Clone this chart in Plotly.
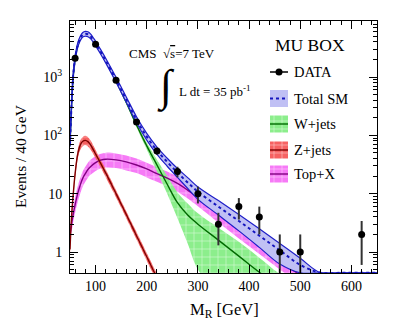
import plotly.graph_objects as go

# ---------------- data ----------------
MR = [50, 53, 56, 60, 65, 70, 75, 80, 85, 90, 100, 110, 120, 140, 160, 180, 200, 220, 240, 260,
      280, 300, 340, 380, 420, 460, 500, 540, 580, 620, 650]

TOT_C = [70, 330, 1000, 2100, 3500, 4600, 5300, 5500, 5400, 5000,
         3750, 2700, 1900, 900, 410, 185, 95, 55, 35, 23,
         15.5, 10.8, 6.0, 3.4, 1.9, 1.07, 0.6, 0.44, 0.44, 0.44, 0.44]
TOT_U = [76, 360, 1090, 2280, 3800, 5000, 5800, 6050, 5950, 5500,
         4100, 2950, 2080, 990, 455, 208, 108, 63, 40.5, 27,
         18.8, 13, 7.6, 4.4, 2.5, 1.4, 0.78, 0.44, 0.44, 0.44, 0.44]
TOT_L = [64, 300, 910, 1920, 3200, 4200, 4850, 5000, 4900, 4550,
         3420, 2460, 1730, 815, 368, 164, 83, 47, 29.5, 19,
         12.3, 8.0, 4.3, 2.3, 1.2, 0.62, 0.44, 0.44, 0.44, 0.44, 0.44]

W_C = [66, 315, 960, 2000, 3380, 4450, 5150, 5380, 5300, 4900,
       3660, 2620, 1830, 850, 365, 150, 66, 31, 14.5, 7.0,
       4.3, 3.0, 1.6, 0.85, 0.45, 0.26, 0.15, None, None, None, None]
W_U = [69, 328, 1000, 2080, 3520, 4630, 5360, 5600, 5510, 5100,
       3800, 2720, 1900, 885, 385, 162, 75, 38, 20, 10.5,
       6.8, 4.6, 2.6, 1.5, 0.8, 0.42, 0.25, None, None, None, None]
W_L = [63, 302, 920, 1920, 3240, 4270, 4940, 5160, 5090, 4700,
       3510, 2520, 1760, 815, 345, 138, 57, 24, 10, 3.8,
       1.4, 0.5, 0.2, 0.1, None, None, None, None, None, None, None]

Z_C = [1.1, 4, 9, 22, 47, 68, 79, 82, 78, 69,
       48, 33, 22.5, 10, 4.4, 1.9, 0.83, 0.36, 0.16, None,
       None, None, None, None, None, None, None, None, None, None, None]
Z_U = [1.35, 4.8, 10.8, 26, 56, 81, 94, 98, 93, 82,
       56, 38.5, 26, 11.5, 5.0, 2.2, 0.96, 0.42, 0.19, None,
       None, None, None, None, None, None, None, None, None, None, None]
Z_L = [0.88, 3.3, 7.4, 18, 39, 56, 65, 68, 64.5, 57,
       40.5, 28, 19, 8.6, 3.8, 1.63, 0.71, 0.31, 0.14, None,
       None, None, None, None, None, None, None, None, None, None, None]

TOP_C = [2.0, 3.0, 4.3, 6.5, 10, 14, 18.5, 22, 26, 29,
         34, 37.5, 39, 38, 35, 31, 26.5, 22, 18.5, 15,
         11.5, 8.5, 4.5, 2.4, 1.3, 0.7, 0.4, 0.22, None, None, None]
TOP_U = [2.7, 4.0, 5.8, 8.7, 13.3, 18.5, 24.5, 29, 34, 38,
         44, 48.5, 50.5, 49, 45, 40, 34, 28.5, 24, 19.5,
         15, 11.2, 6.0, 3.2, 1.75, 0.95, 0.55, 0.3, None, None, None]
TOP_L = [1.45, 2.2, 3.1, 4.7, 7.2, 10, 13.3, 16, 18.8, 21,
         24.5, 27, 28, 27.5, 25, 22.5, 19, 16, 13.3, 10.8,
         8.3, 6.1, 3.2, 1.7, 0.92, 0.5, 0.28, 0.16, None, None, None]

DATA_X = [60, 100, 140, 180, 220, 260, 300, 340, 380, 420, 460, 500, 620]
DATA_Y = [2100, 3650, 880, 170, 54, 24, 10, 3, 6, 4, 1, 1, 2]
DATA_EUP = [46, 60, 30, 13, 7.3, 4.9, 3.2, 1.7, 2.4, 2.0, 1.0, 1.0, 1.4]
DATA_EDN = [46, 60, 30, 13, 7.3, 4.9, 3.2, 1.7, 2.4, 2.0, 0.99, 0.99, 1.4]

X_TICKS = [100, 200, 300, 400, 500, 600]
Y_TICKS = [1, 10, 100, 1000]
Y_TICKTEXT = ["1", "10", "10<sup>2</sup>", "10<sup>3</sup>"]
LEG_LABELS = ["DATA", "Total SM", "W+jets", "Z+jets", "Top+X"]

# ---------------- styles ----------------
FONT = "Liberation Serif"
C_BLUE_FILL = "rgb(192,192,244)"
C_BLUE_LINE = "rgb(30,30,200)"
C_BLUE_DOT = "rgb(20,20,190)"
C_GREEN_FILL = "rgb(140,238,140)"
C_GREEN_LINE = "rgb(0,105,0)"
C_RED_FILL = "rgb(246,98,98)"
C_RED_LINE = "rgb(125,0,0)"
C_PINK_FILL = "rgb(246,122,246)"
C_PINK_LINE = "rgb(128,0,128)"

# plot-area pixel frame
PL, PR, PT, PB = 70, 377, 21, 273
W_PX, H_PX = 407, 322


def pts(xs, ys):
    p = [(x, y) for x, y in zip(xs, ys) if y is not None]
    return [a for a, _ in p], [b for _, b in p]


def band_poly(xs, up, lo):
    ux, uy = pts(xs, up)
    lx, ly = pts(xs, lo)
    return ux + lx[::-1], uy + ly[::-1]


def pattern(col):
    return dict(shape="+", fgcolor="white", bgcolor=col, size=8, solidity=0.12,
                fgopacity=0.75, fillmode="replace")


fig = go.Figure()

# bands
for up, lo, col in [(TOP_U, TOP_L, C_PINK_FILL),
                    (W_U, W_L, C_GREEN_FILL),
                    (Z_U, Z_L, C_RED_FILL)]:
    bx, by = band_poly(MR, up, lo)
    fig.add_trace(go.Scatter(x=bx, y=by, mode="lines", fill="toself", fillcolor=col,
                             fillpattern=pattern(col), line=dict(width=0, shape="spline"),
                             hoverinfo="skip", showlegend=False))

# central lines of components
for ys, col in [(TOP_C, C_PINK_LINE), (W_C, C_GREEN_LINE), (Z_C, C_RED_LINE)]:
    lx, ly = pts(MR, ys)
    fig.add_trace(go.Scatter(x=lx, y=ly, mode="lines", line=dict(color=col, width=1.4, shape="spline"),
                             hoverinfo="skip", showlegend=False))

# total SM band
bx, by = band_poly(MR, TOT_U, TOT_L)
fig.add_trace(go.Scatter(x=bx, y=by, mode="lines", fill="toself", fillcolor=C_BLUE_FILL,
                         line=dict(width=0, shape="spline"), hoverinfo="skip", showlegend=False))
for ys in (TOT_U, TOT_L):
    fig.add_trace(go.Scatter(x=MR, y=ys, mode="lines", line=dict(color=C_BLUE_LINE, width=1.2, shape="spline"),
                             hoverinfo="skip", showlegend=False))
fig.add_trace(go.Scatter(x=MR, y=TOT_C, mode="lines",
                         line=dict(color=C_BLUE_DOT, width=2, dash="dot", shape="spline"),
                         hoverinfo="skip", showlegend=False))

# data
fig.add_trace(go.Scatter(x=DATA_X, y=DATA_Y, mode="markers",
                         marker=dict(color="black", size=7),
                         error_y=dict(type="data", array=DATA_EUP, arrayminus=DATA_EDN, symmetric=False,
                                      color="rgb(50,50,50)", thickness=2, width=0),
                         hoverinfo="skip", showlegend=False))


# ---------------- legend (drawn on an overlay unit axis) ----------------
def u(px):
    return (px - PL) / (PR - PL)


def v(py):
    return (PB - py) / (PB - PT)


ROW_PY = [72, 98.5, 124, 150, 174]
BX0, BX1 = 270, 288
BH = 8.5

fig.add_trace(go.Scatter(x=[u(BX0), u(BX1)], y=[v(ROW_PY[0])] * 2, mode="lines", xaxis="x2", yaxis="y2",
                         line=dict(color="black", width=1.5), hoverinfo="skip", showlegend=False))
fig.add_trace(go.Scatter(x=[u((BX0 + BX1) / 2)], y=[v(ROW_PY[0])], mode="markers", xaxis="x2", yaxis="y2",
                         marker=dict(color="black", size=7), hoverinfo="skip", showlegend=False))

leg_styles = [
    (C_BLUE_FILL, False, C_BLUE_DOT, "dot"),
    (C_GREEN_FILL, True, C_GREEN_LINE, "solid"),
    (C_RED_FILL, True, C_RED_LINE, "solid"),
    (C_PINK_FILL, True, C_PINK_LINE, "solid"),
]
for (fillc, patt, linec, dash), py in zip(leg_styles, ROW_PY[1:]):
    x0, x1 = u(BX0), u(BX1)
    y0, y1 = v(py - BH), v(py + BH)
    kw = dict(fillpattern=pattern(fillc)) if patt else {}
    fig.add_trace(go.Scatter(x=[x0, x1, x1, x0, x0], y=[y0, y0, y1, y1, y0], mode="lines", fill="toself",
                             fillcolor=fillc, line=dict(width=0), xaxis="x2", yaxis="y2",
                             hoverinfo="skip", showlegend=False, **kw))
    fig.add_trace(go.Scatter(x=[x0, x1], y=[v(py)] * 2, mode="lines", xaxis="x2", yaxis="y2",
                             line=dict(color=linec, width=2 if dash == "dot" else 1.4, dash=dash),
                             hoverinfo="skip", showlegend=False))

annotations = []
for lab, py in zip(LEG_LABELS, ROW_PY):
    annotations.append(dict(x=u(292), y=v(py), xref="paper", yref="paper", text=lab, showarrow=False,
                            xanchor="left", yanchor="middle", font=dict(family=FONT, size=14.5, color="black")))

annotations += [
    dict(x=u(273), y=v(45), xref="paper", yref="paper", text="MU BOX", showarrow=False,
         xanchor="left", yanchor="middle", font=dict(family=FONT, size=17.5, color="black")),
    dict(x=u(127), y=v(53), xref="paper", yref="paper",
         text="CMS  \u221a<span style='text-decoration:overline'>s</span>=7 TeV", showarrow=False,
         xanchor="left", yanchor="middle", font=dict(family=FONT, size=13, color="black")),
    dict(x=u(166), y=v(87), xref="paper", yref="paper", text="\u222b", showarrow=False,
         xanchor="center", yanchor="middle", font=dict(family=FONT, size=44, color="black")),
    dict(x=u(177), y=v(91), xref="paper", yref="paper", text="L dt = 35 pb<sup>-1</sup>", showarrow=False,
         xanchor="left", yanchor="middle", font=dict(family=FONT, size=13, color="black")),
    dict(x=u(224), y=v(310), xref="paper", yref="paper", text="M<sub>R</sub> [GeV]", showarrow=False,
         xanchor="center", yanchor="middle", font=dict(family=FONT, size=16.5, color="black")),
    dict(x=u(20), y=v(156), xref="paper", yref="paper", text="Events / 40 GeV", showarrow=False,
         textangle=-90, xanchor="center", yanchor="middle", font=dict(family=FONT, size=15.5, color="black")),
]

x_minor = [m for m in range(60, 650, 20) if m % 100 != 0]
y_minor = [k * 10 ** d for d in range(-1, 4) for k in range(2, 10)]

fig.update_layout(
    width=W_PX, height=H_PX,
    margin=dict(l=PL, r=W_PX - PR, t=PT, b=H_PX - PB, pad=0),
    paper_bgcolor="white", plot_bgcolor="white",
    showlegend=False,
    font=dict(family=FONT, color="black"),
    xaxis=dict(range=[50, 650], tickmode="array", tickvals=X_TICKS, ticks="inside", ticklen=8,
               tickcolor="black", showline=True, linecolor="black", linewidth=1, mirror="allticks",
               showgrid=False, zeroline=False, tickfont=dict(family=FONT, size=14, color="black"),
               minor=dict(tickmode="array", tickvals=x_minor, ticks="inside", ticklen=4, tickcolor="black",
                          showgrid=False)),
    yaxis=dict(type="log", range=[-0.36, 3.96], tickmode="array", tickvals=Y_TICKS, ticktext=Y_TICKTEXT,
               ticks="inside", ticklen=8, tickcolor="black", showline=True, linecolor="black", linewidth=1,
               mirror="allticks", showgrid=False, zeroline=False, ticklabelstandoff=4,
               tickfont=dict(family=FONT, size=14, color="black"),
               minor=dict(tickmode="array", tickvals=y_minor, ticks="inside", ticklen=4, tickcolor="black",
                          showgrid=False)),
    xaxis2=dict(overlaying="x", range=[0, 1], visible=False, fixedrange=True),
    yaxis2=dict(overlaying="y", range=[0, 1], visible=False, fixedrange=True),
    annotations=annotations,
)

fig.write_html("out.html", config={"displayModeBar": False, "staticPlot": True},
               post_script="document.body.style.margin='0';document.body.style.overflow='hidden';")
